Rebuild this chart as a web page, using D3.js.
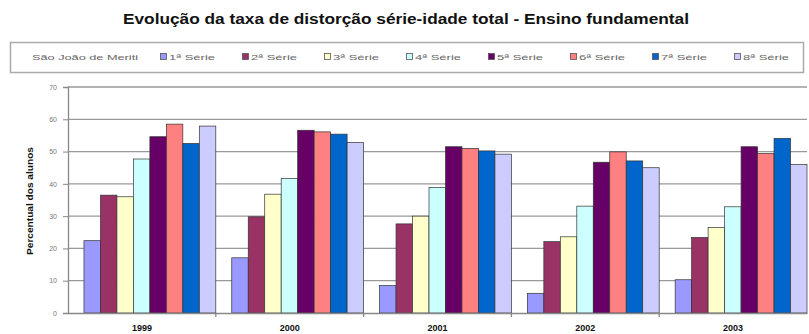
<!DOCTYPE html>
<html><head><meta charset="utf-8">
<script src="https://cdn.jsdelivr.net/npm/d3@7"></script>
<style>body{margin:0;background:#fff}svg{display:block}text{font-family:"Liberation Sans",Arial,sans-serif}</style>
</head><body>
<svg id="c" width="809" height="334"></svg>
<script>
const years = ["1999","2000","2001","2002","2003"];
const series = ["1ª Série","2ª Série","3ª Série","4ª Série","5ª Série","6ª Série","7ª Série","8ª Série"];
const colors = ["#9999FF","#993366","#FFFFCC","#CCFFFF","#660066","#FF8080","#0066CC","#CCCCFF"];
const s1 = [22.4,17.1,8.5,6.1,10.3];
const s2 = [36.5,29.8,27.6,22.1,23.4];
const s3 = [36.0,36.8,30.0,23.6,26.5];
const s4 = [47.7,41.7,38.9,33.1,32.9];
const s5 = [54.6,56.6,51.5,46.7,51.5];
const s6 = [58.5,56.1,51.0,49.9,49.4];
const s7 = [52.5,55.4,50.2,47.1,54.1];
const s8 = [57.9,52.8,49.2,45.0,46.0];
const values = [s1,s2,s3,s4,s5,s6,s7,s8];
const yTicks = [0,10,20,30,40,50,60,70];
const title = "Evolução da taxa de distorção série-idade total - Ensino fundamental";
const legendTitle = "São João de Meriti";
const yLabel = "Percentual dos alunos";

const svg = d3.select("#c");
const L=68, R=807, T=87, B=313;
const x = d3.scaleBand().domain(years).range([L,R]).padding(0);
const xs = d3.scaleBand().domain(series).range([x.bandwidth()*0.108, x.bandwidth()]).padding(0);
const y = d3.scaleLinear().domain([0,70]).range([B,T]);

// title
svg.append("text").attr("x",406).attr("y",24).attr("text-anchor","middle")
  .attr("font-size",14).attr("font-weight","bold").attr("fill","#111")
  .attr("textLength",566).attr("lengthAdjust","spacingAndGlyphs").text(title);

// legend box
svg.append("rect").attr("x",10.5).attr("y",42.5).attr("width",793).attr("height",30)
  .attr("fill","#fff").attr("stroke","#aaa").attr("stroke-width",1.5);
svg.append("text").attr("x",32).attr("y",60).attr("font-size",8).attr("fill","#666")
  .attr("textLength",106).attr("lengthAdjust","spacingAndGlyphs").text(legendTitle);
const lg = svg.append("g");
series.forEach((s,i)=>{
  const lx = 160 + i*82;
  lg.append("rect").attr("x",lx+0.5).attr("y",53.5).attr("width",6).attr("height",6)
    .attr("fill",colors[i]).attr("stroke","#555").attr("stroke-width",0.8);
  lg.append("text").attr("x",lx+9).attr("y",60).attr("font-size",8).attr("fill","#666")
    .attr("textLength",46).attr("lengthAdjust","spacingAndGlyphs").text(s);
});

// gridlines
svg.append("g").selectAll("line").data(yTicks.filter(d=>d>0)).join("line")
  .attr("x1",L).attr("x2",R).attr("y1",d=>y(d)).attr("y2",d=>y(d))
  .attr("stroke","#999").attr("stroke-width",1.3);

// y axis
const ya = svg.append("g").attr("transform",`translate(${L},0)`)
  .call(d3.axisLeft(y).tickValues(yTicks).tickSize(5).tickPadding(6).tickFormat(d3.format("d")));
ya.select(".domain").attr("stroke","#888").attr("stroke-width",1.3);
ya.selectAll(".tick line").attr("stroke","#888");
ya.selectAll("text").attr("font-size",7).attr("fill","#777").attr("font-family","Liberation Sans, Arial");

// bars
const g = svg.append("g");
years.forEach((yr,j)=>{
  series.forEach((s,i)=>{
    g.append("rect").attr("x",x(yr)+xs(s)).attr("width",xs.bandwidth())
      .attr("y",y(values[i][j])).attr("height",y(0)-y(values[i][j]))
      .attr("fill",colors[i]).attr("stroke","#333").attr("stroke-width",0.7);
  });
});

// x axis
const xa = svg.append("g").attr("transform",`translate(0,${B})`)
  .call(d3.axisBottom(x).tickSize(0).tickPadding(12));
xa.select(".domain").attr("stroke","#888").attr("stroke-width",1.3);
xa.selectAll("text").attr("font-size",9).attr("font-weight","bold").attr("fill","#111")
  .attr("font-family","Liberation Sans, Arial");
svg.append("g").selectAll("line").data(years.slice(1)).join("line")
  .attr("x1",d=>x(d)).attr("x2",d=>x(d)).attr("y1",B).attr("y2",B+4)
  .attr("stroke","#888").attr("stroke-width",1.3);

// y label
svg.append("text").attr("transform",`translate(33,201) rotate(-90)`).attr("text-anchor","middle")
  .attr("font-size",9).attr("font-weight","bold").attr("fill","#111")
  .attr("textLength",108).attr("lengthAdjust","spacingAndGlyphs").text(yLabel);
</script>
</body></html>
